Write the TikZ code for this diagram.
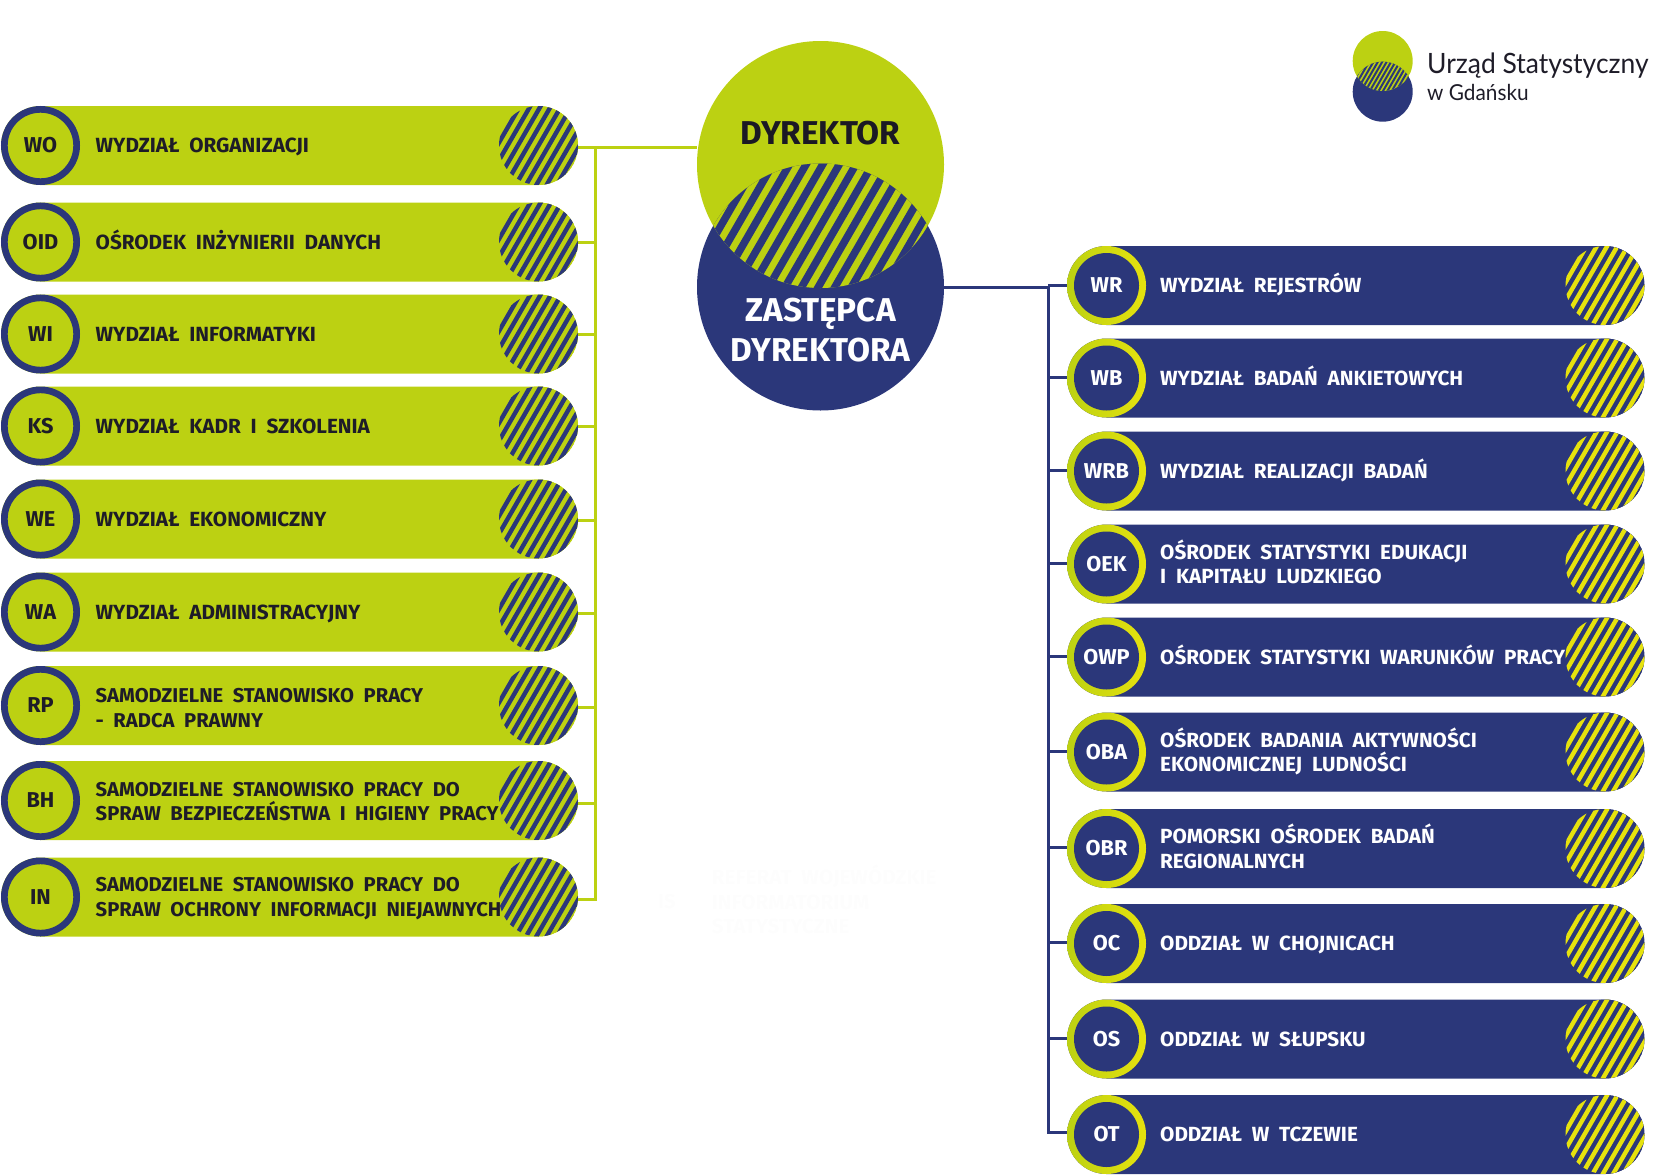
\documentclass[tikz,border=0pt]{standalone}
\usepackage{fontspec}
\setmainfont{Fira Sans}[FakeStretch=1.01,WordSpace=2]
\newfontfamily\logofont{Lato}[FakeStretch=0.945]
\usetikzlibrary{positioning,calc,shapes.misc}

\definecolor{limeus}{RGB}{188,209,18}
\definecolor{navyus}{RGB}{43,55,122}
\definecolor{yellowus}{RGB}{230,226,14}
\definecolor{inkus}{RGB}{30,28,40}
\definecolor{ghostus}{RGB}{253,253,253}

\tikzset{
    barlime/.style={rounded rectangle, fill=limeus, minimum width=577pt, minimum height=79pt, inner sep=0pt},
    barnavy/.style={rounded rectangle, fill=navyus, minimum width=577.5pt, minimum height=79pt, inner sep=0pt},
    ringlime/.style={circle, draw=navyus, line width=6.7pt, fill=limeus, minimum size=72.3pt, inner sep=0pt,
        text=inkus, font=\bfseries\fontsize{21.5}{21.5}\selectfont},
    ringnavy/.style={circle, left color=limeus, right color=yellowus, minimum size=79pt, inner sep=0pt},
    corenavy/.style={circle, fill=navyus, minimum size=65pt, inner sep=0pt,
        text=white, font=\bfseries\fontsize{21.5}{21.5}\selectfont},
    bartext/.style={anchor=west, inner sep=0pt, align=left, font=\bfseries\fontsize{20.5}{24.6}\selectfont,
        execute at begin node={\rule[-5pt]{0pt}{24pt}}, execute at end node={\rule[-5pt]{0pt}{24pt}}},
    narrowtext/.style={bartext, font=\bfseries\fontsize{20}{24.6}\selectfont},
    linklime/.style={draw=limeus, line width=3pt},
    linknavy/.style={draw=navyus, line width=3pt},
}

% striped right end of a bar: centre, ground colour, stripe colour
\newcommand{\stripes}[4]{%
    \begin{scope}
        \clip (#1,#2) circle (39.5);
        \fill[#3] (#1,#2) circle (39.5);
        \foreach \k in {-6,...,6} {
            \draw[#4, line width=4.4pt] ($(#1,#2)+(\k*10.3,0)+(-60:-50)$) -- ($(#1,#2)+(\k*10.3,0)+(-60:50)$);
        }
    \end{scope}
}

% left bar: text style, name, y, abbreviation, text
\newcommand{\leftbar}[5][bartext]{%
    \node[barlime] (#2) at (289.5,#3) {};
    \stripes{538.5}{#3}{limeus}{navyus}
    \node[ringlime] (#2c) at (40.5,#3) {#4};
    \node[#1, text=inkus] (#2t) at (95.5,#3) {#5};
}

% right bar: name, y, abbreviation, text
\newcommand{\rightbar}[4]{%
    \node[barnavy] (#1) at (1355.8,#2) {};
    \stripes{1605}{#2}{navyus}{yellowus}
    \node[ringnavy] (#1r) at (1106.5,#2) {};
    \node[corenavy] (#1c) at (1106.5,#2) {#3};
    \node[bartext, text=white] (#1t) at (1160,#2) {#4};
}

\begin{document}
\begin{tikzpicture}[x=1pt,y=-1pt]
    \useasboundingbox (0,0) rectangle (1679,1175);

    % Bus lines
    \coordinate (busl) at (595,147.5);
    \coordinate (busr) at (1048,287);

    % Left column
    \leftbar{wo}{145.5}{WO}{WYDZIAŁ ORGANIZACJI}
    \leftbar{oid}{242}{OID}{OŚRODEK INŻYNIERII DANYCH}
    \leftbar{wi}{334}{WI}{WYDZIAŁ INFORMATYKI}
    \leftbar{ks}{426}{KS}{WYDZIAŁ KADR I SZKOLENIA}
    \leftbar{we}{519}{WE}{WYDZIAŁ EKONOMICZNY}
    \leftbar{wa}{612}{WA}{WYDZIAŁ ADMINISTRACYJNY}
    \leftbar[narrowtext, yshift=-5pt]{rp}{705.5}{RP}{SAMODZIELNE STANOWISKO PRACY\\ - RADCA PRAWNY}
    \leftbar[narrowtext, yshift=-3.5pt]{bh}{800.5}{BH}{SAMODZIELNE STANOWISKO PRACY DO\\SPRAW BEZPIECZEŃSTWA I HIGIENY PRACY}
    \leftbar[narrowtext, yshift=-2.5pt]{in}{897}{IN}{SAMODZIELNE STANOWISKO PRACY DO\\SPRAW OCHRONY INFORMACJI NIEJAWNYCH}

    % Right column
    \rightbar{wr}{285.5}{WR}{WYDZIAŁ REJESTRÓW}
    \rightbar{wb}{378}{WB}{WYDZIAŁ BADAŃ ANKIETOWYCH}
    \rightbar{wrb}{471}{WRB}{WYDZIAŁ REALIZACJI BADAŃ}
    \rightbar{oek}{564}{OEK}{OŚRODEK STATYSTYKI EDUKACJI\\I KAPITAŁU LUDZKIEGO}
    \rightbar{owp}{657}{OWP}{OŚRODEK STATYSTYKI WARUNKÓW PRACY}
    \rightbar{oba}{752}{OBA}{OŚRODEK BADANIA AKTYWNOŚCI\\EKONOMICZNEJ LUDNOŚCI}
    \rightbar{obr}{848.5}{OBR}{POMORSKI OŚRODEK BADAŃ\\REGIONALNYCH}
    \rightbar{oc}{943.5}{OC}{ODDZIAŁ W CHOJNICACH}
    \rightbar{os}{1039}{OS}{ODDZIAŁ W SŁUPSKU}
    \rightbar{ot}{1134.5}{OT}{ODDZIAŁ W TCZEWIE}

    % Director circles
    \node[circle, fill=limeus, minimum size=247pt, inner sep=0pt] (dyr) at (820.5,164.5) {};
    \node[circle, fill=navyus, minimum size=247pt, inner sep=0pt] (zas) at (820.5,287) {};
    \begin{scope}
        \clip (820.5,164.5) circle (123.5);
        \clip (820.5,287) circle (123.5);
        \fill[limeus] (680,150) rectangle (960,300);
        \foreach \k in {-9,...,9} {
            \draw[navyus, line width=7.5pt] ($(820.5,225.7)+(\k*16.6,0)+(-60:-90)$) -- ($(820.5,225.7)+(\k*16.6,0)+(-60:90)$);
        }
    \end{scope}
    \node[text=inkus!90!black, inner sep=0pt, font=\bfseries\fontsize{33}{33}\selectfont] (dyrt) at (820.5,132.7) {DYREKTOR};
    \node[text=white, inner sep=0pt, align=center, font=\bfseries\fontsize{33}{39.5}\selectfont] (zast) at (820.5,330) {ZASTĘPCA\\DYREKTORA};

    % Left connectors
    \draw[linklime] (dyr.west |- busl) -- (busl);
    \draw[linklime] (wo.east |- busl) -- (busl);
    \coordinate (tipin) at ($(in.east)+(0,2)$);
    \draw[linklime] (busl) |- (tipin);
    \foreach \n/\d in {oid/0,wi/0,ks/0,we/1,wa/1,rp/1.5,bh/3} {
        \coordinate (tip) at ($(\n.east)+(0,\d)$);
        \draw[linklime] (tip) -- (tip -| busl);
    }

    % Right connectors
    \draw[linknavy] (zas.east) -- (busr);
    \coordinate (tipot) at ($(ot.west)+(0,-2)$);
    \draw[linknavy] (busr) |- (tipot);
    \foreach \n/\d in {wr/0,wb/-1,wrb/-1,oek/-1,owp/-1,oba/-1,obr/-1,oc/-1,os/-1} {
        \coordinate (tip) at ($(\n.west)+(0,\d)$);
        \draw[linknavy] (tip -| busr) -- (tip);
    }

    % Hardly visible block
    \node[text=ghostus, inner sep=0pt, font=\bfseries\fontsize{20}{20}\selectfont] (ist) at (658,902) [anchor=west] {IS};
    \node[bartext, text=ghostus] (rwi) at (711.7,902) {REFERAT WOJEWÓDZKIE\\INFORMATORIUM\\STATYSTYCZNE};

    % Logo
    \node[circle, fill=limeus, minimum size=60pt, inner sep=0pt] (lga) at (1382.7,61) {};
    \node[circle, fill=navyus, minimum size=60pt, inner sep=0pt] (lgb) at (1382.7,91.7) {};
    \begin{scope}
        \clip (1382.7,61) circle (30);
        \clip (1382.7,91.7) circle (30);
        \fill[limeus] (1340,50) rectangle (1425,105);
        \foreach \k in {-12,...,12} {
            \draw[navyus, line width=2pt] ($(1382.7,76.3)+(\k*4.4,0)+(-60:-40)$) -- ($(1382.7,76.3)+(\k*4.4,0)+(-60:40)$);
        }
    \end{scope}
    \node[anchor=base west, inner sep=0pt, text=inkus, font=\logofont\fontsize{28}{28}\selectfont] (lgt) at (1427,73) {Urząd Statystyczny};
    \node[anchor=base west, inner sep=0pt, text=inkus, font=\logofont\fontsize{22}{22}\selectfont] (lgs) at (1427,100) {w Gdańsku};
\end{tikzpicture}
\end{document}
